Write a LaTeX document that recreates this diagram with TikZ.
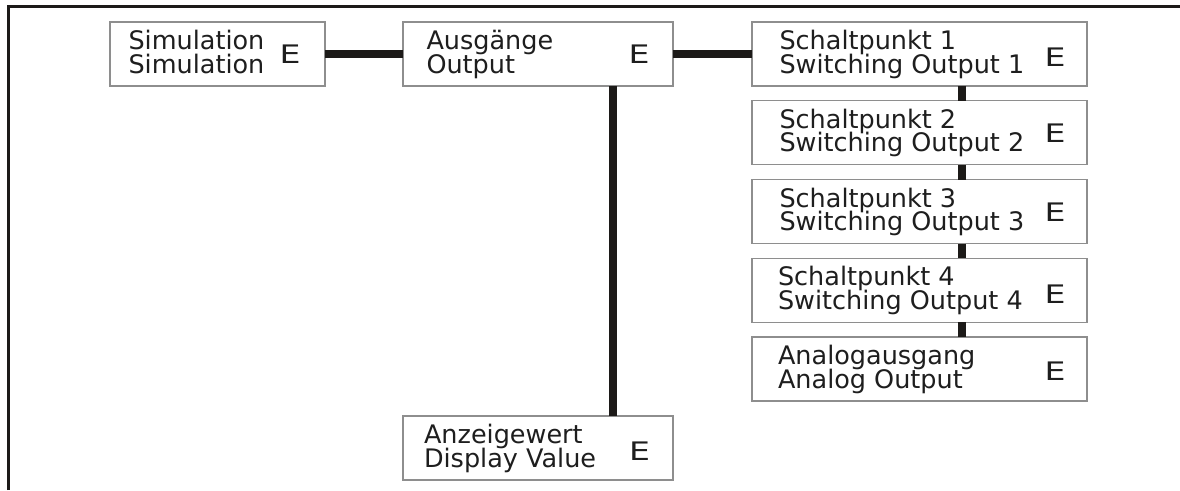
\documentclass[tikz,border=0pt]{standalone}
\usepackage{fontspec}
\setmainfont{DejaVu Sans}
\begin{document}
\begin{tikzpicture}[x=1pt,y=-1pt,
  box/.style={draw=boxgray,line width=1.4pt,fill=white,minimum height=64pt,inner sep=0pt,outer sep=0pt,anchor=north west},
  lbl/.style={inner sep=0pt,outer sep=0pt,anchor=base west,font=\fontsize{25.5}{23}\selectfont,text=txt},
  elbl/.style={lbl,font=\fontsize{25.5}{23}\selectfont\addfontfeatures{FakeStretch=1.3}},
  conn/.style={line width=7.5pt,draw=linedark},
  frame/.style={line width=2.8pt,draw=linedark}]
\definecolor{boxgray}{HTML}{8E8E8E}
\definecolor{linedark}{HTML}{1C1A18}
\definecolor{txt}{HTML}{1E1E1E}
\useasboundingbox (0,0) rectangle (1180,490);
% frame
\coordinate (fbl) at (8.5,490);
\coordinate (ftl) at (8.5,6.5);
\coordinate (ftr) at (1180,6.5);
\draw[frame] (fbl) -- (ftl) -- (ftr);
% boxes
\node[box,minimum width=215pt] (sim) at (110,22) {};
\node[box,minimum width=270pt] (aus) at (403,22) {};
\node[box,minimum width=335pt] (sp1) at (752,22) {};
\node[box,minimum width=335pt] (sp2) at (752,100.75) {};
\node[box,minimum width=335pt] (sp3) at (752,179.5) {};
\node[box,minimum width=335pt] (sp4) at (752,258.25) {};
\node[box,minimum width=335pt] (ana) at (752,337) {};
\node[box,minimum width=270pt] (anz) at (403,416) {};
% texts
\node[lbl] (sim1) at (128.5,49.7) {Simulation};
\node[lbl] (sim2) at (128.5,73.2) {Simulation};
\node[elbl] (simE) at (279.5,63) {E};
\node[lbl] (aus1) at (426.5,49.7) {Ausgänge};
\node[lbl] (aus2) at (426.5,73.2) {Output};
\node[elbl] (ausE) at (628.5,63) {E};
\node[lbl] (sp1a) at (779.5,49.7) {Schaltpunkt 1};
\node[lbl] (sp1b) at (779.5,73.2) {Switching Output 1};
\node[elbl] (sp1E) at (1044.5,66.5) {E};
\node[lbl] (sp2a) at (779.5,128.45) {Schaltpunkt 2};
\node[lbl] (sp2b) at (779.5,151.95) {Switching Output 2};
\node[elbl] (sp2E) at (1044.5,142.75) {E};
\node[lbl] (sp3a) at (779.5,207.2) {Schaltpunkt 3};
\node[lbl] (sp3b) at (779.5,230.7) {Switching Output 3};
\node[elbl] (sp3E) at (1044.5,221.5) {E};
\node[lbl] (sp4a) at (778,285.95) {Schaltpunkt 4};
\node[lbl] (sp4b) at (778,309.45) {Switching Output 4};
\node[elbl] (sp4E) at (1044.5,303.25) {E};
\node[lbl] (ana1) at (778,364.7) {Analogausgang};
\node[lbl] (ana2) at (778,388.2) {Analog Output};
\node[elbl] (anaE) at (1044.5,380) {E};
\node[lbl] (anz1) at (424,443.7) {Anzeigewert};
\node[lbl] (anz2) at (424,467.2) {Display Value};
\node[elbl] (anzE) at (629,460) {E};
% connectors
\coordinate (vx1) at (613,0);
\coordinate (vx2) at (962,0);
\draw[conn] (sim.east) -- (aus.west);
\draw[conn] (aus.east) -- (sp1.west);
\draw[conn] (aus.south -| vx1) -- (anz.north -| vx1);
\draw[conn] (sp1.south -| vx2) -- (sp2.north -| vx2);
\draw[conn] (sp2.south -| vx2) -- (sp3.north -| vx2);
\draw[conn] (sp3.south -| vx2) -- (sp4.north -| vx2);
\draw[conn] (sp4.south -| vx2) -- (ana.north -| vx2);
\end{tikzpicture}
\end{document}
